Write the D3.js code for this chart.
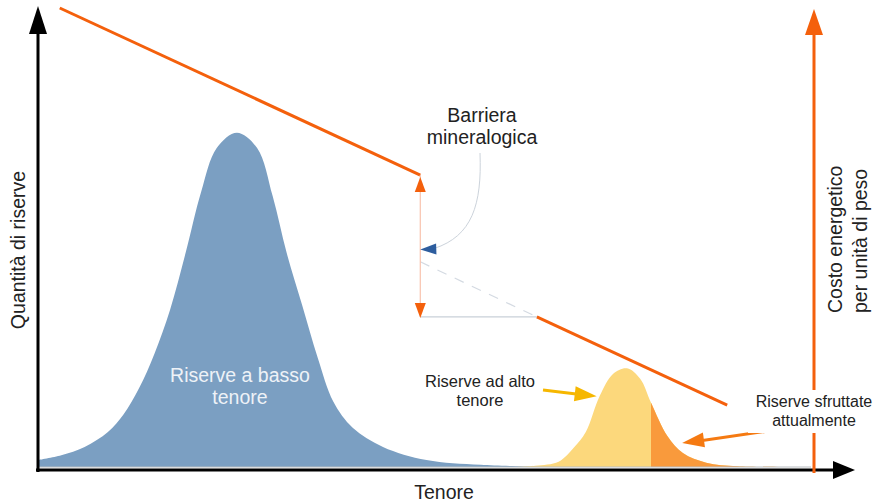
<!DOCTYPE html>
<html>
<head>
<meta charset="utf-8">
<script src="https://cdn.jsdelivr.net/npm/d3@7"></script>
<style>
  html, body { margin: 0; padding: 0; background: #fff; }
  svg { display: block; font-family: "Liberation Sans", Arial, sans-serif; }
</style>
</head>
<body>
<svg id="chart"></svg>
<script>
// ===== dati (tenore 0..100, quantità 0..100, costo 0..100) =====
const lowGradeX = [0, 3, 6, 9, 11, 13, 15, 17, 19, 21, 23, 25.6, 28.2, 30.2, 32, 34, 36, 38, 40.5, 44.4, 50, 57, 66];
const lowGradeY = [1.6, 2.7, 4.6, 8, 12, 18, 26, 36, 49, 63, 73, 76.5, 73, 62, 49, 37, 25, 15, 9, 4.6, 1.6, 0.5, 0];

const highGradeX = [61, 64, 67, 69, 70.5, 72.3, 74, 75.8, 77.5, 78.9, 81, 83, 86, 90, 97];
const highGradeY = [0, 0.3, 1.2, 4.5, 8, 16.3, 21.3, 22.6, 20.2, 14.7, 7.1, 3.2, 1, 0.2, 0];
const exploitedFrom = 78.9; // tenore oltre cui le riserve sono sfruttate

const costHighX = [2.8, 49.2];
const costHighY = [100, 63.6];
const costLowX = [64.2, 88.7];
const costLowY = [32.7, 13.5];
const barrierX = 49.2;
const barrierMid = 44.7; // prolungamento tratteggiato

const width = 880;
const height = 504;

const svg = d3.select("#chart")
  .attr("width", width)
  .attr("height", height)
  .attr("viewBox", [0, 0, width, height]);

// ===== scale =====
const x = d3.scaleLinear().domain([0, 100]).range([38, 815]);
const yRes = d3.scaleLinear().domain([0, 100]).range([467, 30]);
const yCost = d3.scaleLinear().domain([0, 100]).range([467, 8]);

const ORANGE = "#f4600c";

// punta di freccia triangolare: tip, direzione da "from"
function arrowHead(tip, from, len, half) {
  const dx = tip[0] - from[0], dy = tip[1] - from[1];
  const d = Math.hypot(dx, dy);
  const ux = dx / d, uy = dy / d;
  const bx = tip[0] - ux * len, by = tip[1] - uy * len;
  return `M${tip[0]},${tip[1]}L${bx - uy * half},${by + ux * half}L${bx + uy * half},${by - ux * half}Z`;
}

// ===== aree =====
const lowData = lowGradeX.map((v, i) => [v, lowGradeY[i]]);
const highData = highGradeX.map((v, i) => [v, highGradeY[i]]);

const area = d3.area()
  .x(d => x(d[0]))
  .y0(yRes(0))
  .y1(d => Math.min(yRes(0), yRes(d[1])))
  .curve(d3.curveCatmullRom.alpha(0.5));

svg.append("path")
  .attr("d", area(lowData))
  .attr("fill", "#7b9fc2");

svg.append("path")
  .attr("d", area(highData))
  .attr("fill", "#fcd87c");

svg.append("clipPath").attr("id", "cut")
  .append("rect")
  .attr("x", x(exploitedFrom))
  .attr("y", 0)
  .attr("width", width)
  .attr("height", yRes(0));

svg.append("path")
  .attr("d", area(highData))
  .attr("clip-path", "url(#cut)")
  .attr("fill", "#f99a3c");

// linea di base grigia
svg.append("line")
  .attr("x1", x(0)).attr("x2", x(100) - 4)
  .attr("y1", yRes(0)).attr("y2", yRes(0))
  .attr("stroke", "#b8bcc0").attr("stroke-width", 1);

// ===== assi =====
const axisY = 470;
svg.append("line")
  .attr("x1", x(0)).attr("x2", x(0))
  .attr("y1", axisY + 2).attr("y2", 30)
  .attr("stroke", "#000").attr("stroke-width", 3);
svg.append("path")
  .attr("d", arrowHead([x(0), 6], [x(0), 100], 28, 9))
  .attr("fill", "#000");

svg.append("line")
  .attr("x1", x(0) - 2).attr("x2", 836)
  .attr("y1", axisY).attr("y2", axisY)
  .attr("stroke", "#000").attr("stroke-width", 3);
svg.append("path")
  .attr("d", arrowHead([855, axisY], [800, axisY], 22, 9))
  .attr("fill", "#000");

// asse del costo (arancione)
const costAxisX = x(100) - 1;
svg.append("line")
  .attr("x1", costAxisX).attr("x2", costAxisX)
  .attr("y1", axisY + 3).attr("y2", 30)
  .attr("stroke", ORANGE).attr("stroke-width", 3);
svg.append("path")
  .attr("d", arrowHead([costAxisX, 9], [costAxisX, 100], 26, 9))
  .attr("fill", ORANGE);

// ===== curva del costo energetico =====
const line = d3.line().x(d => x(d[0])).y(d => yCost(d[1]));

svg.append("path")
  .attr("d", line(costHighX.map((v, i) => [v, costHighY[i]])))
  .attr("fill", "none").attr("stroke", ORANGE).attr("stroke-width", 3);

svg.append("path")
  .attr("d", line(costLowX.map((v, i) => [v, costLowY[i]])))
  .attr("fill", "none").attr("stroke", ORANGE).attr("stroke-width", 3);

// prolungamento tratteggiato
svg.append("path")
  .attr("d", line([[barrierX, barrierMid], [costLowX[0], costLowY[0]]]))
  .attr("fill", "none").attr("stroke", "#d4dae2")
  .attr("stroke-width", 1.2).attr("stroke-dasharray", "10,9");

// gradino orizzontale
svg.append("path")
  .attr("d", line([[barrierX, costLowY[0]], [costLowX[0], costLowY[0]]]))
  .attr("fill", "none").attr("stroke", "#c9d0d8").attr("stroke-width", 1.2);

// barriera verticale con frecce
const bx = x(barrierX);
svg.append("line")
  .attr("x1", bx).attr("x2", bx)
  .attr("y1", yCost(costHighY[1])).attr("y2", yCost(costLowY[0]))
  .attr("stroke", "#f9c2ad").attr("stroke-width", 1.2);
svg.append("path")
  .attr("d", arrowHead([bx, yCost(costHighY[1]) + 2], [bx, 300], 15, 5.5))
  .attr("fill", ORANGE);
svg.append("path")
  .attr("d", arrowHead([bx, yCost(costLowY[0]) + 1], [bx, 200], 15, 5.5))
  .attr("fill", ORANGE);

// freccia blu curva verso la barriera
const blueTip = [bx, yCost(47.4)];
svg.append("path")
  .attr("d", `M480,153C482,205 472,236 ${blueTip[0] + 14},${blueTip[1] - 1}`)
  .attr("fill", "none").attr("stroke", "#ccd3db").attr("stroke-width", 1);
svg.append("path")
  .attr("d", arrowHead(blueTip, [blueTip[0] + 30, blueTip[1] - 1], 16, 5.5))
  .attr("fill", "#2d5d9e");

// ===== frecce delle etichette =====
const yellowTip = [x(71.9), yRes(16.2)];
svg.append("line")
  .attr("x1", 543).attr("y1", 390)
  .attr("x2", yellowTip[0] - 10).attr("y2", yellowTip[1] - 1)
  .attr("stroke", "#f6b700").attr("stroke-width", 3);
svg.append("path")
  .attr("d", arrowHead(yellowTip, [543, 390], 22, 7.5))
  .attr("fill", "#f6b700");

const orangeTip = [x(82.9), yRes(5.5)];
svg.append("line")
  .attr("x1", 775).attr("y1", 430)
  .attr("x2", orangeTip[0] + 10).attr("y2", orangeTip[1] - 1)
  .attr("stroke", "#f57a12").attr("stroke-width", 3);
svg.append("path")
  .attr("d", arrowHead(orangeTip, [775, 430], 22, 7.5))
  .attr("fill", "#f57a12");

// ===== testi =====
function label(lines, cx, y0, dy, size, color) {
  const t = svg.append("text")
    .attr("text-anchor", "middle")
    .attr("font-size", size)
    .attr("fill", color);
  lines.forEach((s, i) => {
    t.append("tspan").attr("x", cx).attr("y", y0 + i * dy).text(s);
  });
  return t;
}

label(["Barriera", "mineralogica"], 482, 122, 22, 19.5, "#222");
label(["Riserve a basso", "tenore"], 240, 382, 22, 19.5, "#eef2f7");
label(["Riserve ad alto", "tenore"], 480, 387, 19, 16.5, "#222");

svg.append("rect")
  .attr("x", 748).attr("y", 390)
  .attr("width", 132).attr("height", 43)
  .attr("fill", "#fff");
label(["Riserve sfruttate", "attualmente"], 814, 407, 19, 16, "#222");

label(["Tenore"], 444, 499, 0, 19.5, "#222");

svg.append("text")
  .attr("transform", "translate(25,250) rotate(-90)")
  .attr("text-anchor", "middle")
  .attr("font-size", 19.5)
  .attr("fill", "#222")
  .text("Quantità di riserve");

svg.append("text")
  .attr("transform", "translate(842,313) rotate(-90)")
  .attr("font-size", 19.5).attr("fill", "#222")
  .text("Costo energetico");
svg.append("text")
  .attr("transform", "translate(867,313) rotate(-90)")
  .attr("font-size", 19.5).attr("fill", "#222")
  .text("per unità di peso");
</script>
</body>
</html>
